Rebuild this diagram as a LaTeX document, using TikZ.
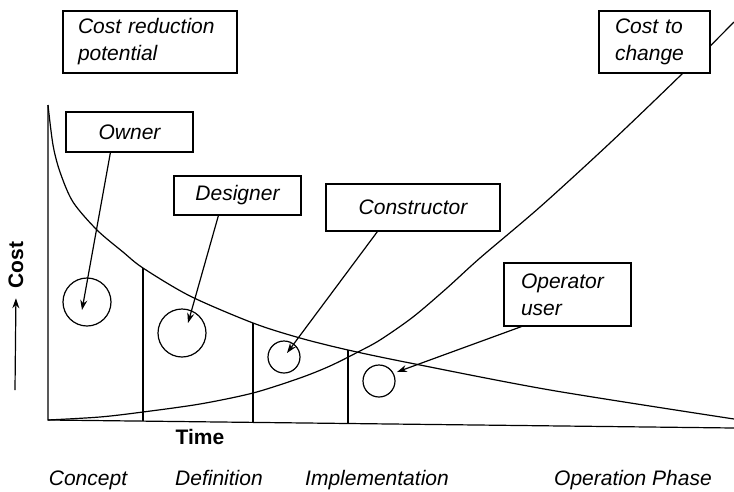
\documentclass[tikz,border=0pt]{standalone}
\usepackage{fontspec}
\setmainfont{Liberation Sans}
\usetikzlibrary{arrows.meta, calc}

\tikzset{
  labelbox/.style={draw, fill=white, line width=1.2pt, inner sep=0pt,
                   font=\fontsize{21}{27}\selectfont\itshape},
  ring/.style={draw, circle, line width=1.2pt, inner sep=0pt},
  pointer/.style={-{Stealth[length=10pt, width=7pt]}, line width=1.2pt},
  phase/.style={anchor=base, font=\fontsize{21}{27}\selectfont\itshape},
  axislabel/.style={font=\fontsize{21}{27}\selectfont\bfseries}
}

\begin{document}
\begin{tikzpicture}[x=1pt, y=-1pt, line width=1.2pt]
    \useasboundingbox (0,0) rectangle (734,491);

    % Axes
    \coordinate (ytop) at (48,105);
    \coordinate (origin) at (48,420);
    \coordinate (xend) at (734,428);
    \draw (ytop) -- (origin) -- (xend);

    % Phase dividers
    \draw (143,268) -- (143,421);
    \draw (253,323) -- (253,423);
    \draw (348,350) -- (348,424);

    % Cost reduction potential curve
    \draw plot[smooth] coordinates {(48,105) (53,145) (60,172) (73,202) (97,230)
      (123,252) (143,268) (190,296) (253,323) (300,338) (348,350) (410,363)
      (550,390) (734,419)};

    % Cost to change curve
    \draw plot[smooth] coordinates {(48,420) (100,417) (143,412) (200,404)
      (253,393) (300,378) (330,366) (358,352) (380,340) (413,317) (447,288)
      (480,258) (540,207) (610,143) (683,73) (734,22)};

    % Label boxes
    \node[labelbox, minimum width=174pt, minimum height=62pt, text width=144pt,
          align=left] (costred) at (150,42) {Cost reduction\\potential};
    \node[labelbox, minimum width=111pt, minimum height=62pt, text width=79pt,
          align=left] (costchange) at (654.5,42) {Cost to\\change};
    \node[labelbox, minimum width=127pt, minimum height=40pt] (owner) at (129.5,132) {Owner};
    \node[labelbox, minimum width=127pt, minimum height=39pt] (designer) at (237.5,195.5) {Designer};
    \node[labelbox, minimum width=174pt, minimum height=47pt] (constructor) at (413,207.5) {Constructor};
    \node[labelbox, minimum width=127pt, minimum height=63pt, text width=93pt,
          align=left] (operator) at (567.5,294.5) {Operator\\user};

    % Circles
    \node[ring, minimum size=48pt] (ownerc) at (87,302) {};
    \node[ring, minimum size=48pt] (designerc) at (182,333) {};
    \node[ring, minimum size=32pt] (constructorc) at (284,357) {};
    \node[ring, minimum size=32pt] (operatorc) at (379,381) {};

    % Pointers
    \draw[pointer] ($(owner.south west)+(45,0)$) -- ($(ownerc.center)+(-5,8)$);
    \draw[pointer] ($(designer.south west)+(45,0)$) -- ($(designerc.center)+(6,-10)$);
    \draw[pointer] ($(constructor.south west)+(52,0)$) -- ($(constructorc.center)+(3,-4)$);
    \draw[pointer] ($(operator.south west)+(18,0)$) -- ($(operatorc.center)+(18,-9)$);

    % Axis labels
    \node[axislabel, rotate=90] (costlbl) at (16,265) {Cost};
    \coordinate (costfoot) at (15,390);
    \draw[pointer, shorten >=6pt] (costfoot) -- (costlbl.west);
    \node[axislabel] (timelbl) at (200,437) {Time};

    % Phases
    \node[phase] (concept) at (88,485) {Concept};
    \node[phase] (definition) at (219,485) {Definition};
    \node[phase] (implementation) at (377,485) {Implementation};
    \node[phase] (operation) at (633,485) {Operation Phase};
\end{tikzpicture}
\end{document}
